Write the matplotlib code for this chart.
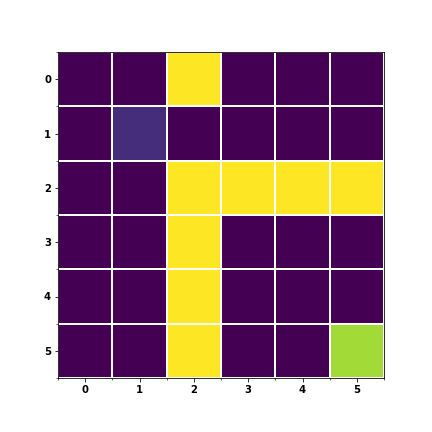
import numpy as np
import matplotlib
matplotlib.use("Agg")
import matplotlib.pyplot as plt

rows = [0, 1, 2, 3, 4, 5]
cols = [0, 1, 2, 3, 4, 5]
grid = np.array([
    [0, 0, 1, 0, 0, 0],
    [0, 0.13, 0, 0, 0, 0],
    [0, 0, 1, 1, 1, 1],
    [0, 0, 1, 0, 0, 0],
    [0, 0, 1, 0, 0, 0],
    [0, 0, 1, 0, 0, 0.86],
])

fig = plt.figure(figsize=(6, 6), dpi=72)
ax = fig.add_axes([58 / 432, 54 / 432, 326 / 432, 326 / 432])
ax.imshow(grid, cmap="viridis", vmin=0, vmax=1)

ax.set_xticks(cols)
ax.set_yticks(rows)
ax.set_xticks(np.arange(-0.5, 6, 1), minor=True)
ax.set_yticks(np.arange(-0.5, 6, 1), minor=True)
ax.grid(which="minor", color="white", linewidth=2)
ax.set_xlim(-0.5, 5.5)
ax.set_ylim(5.5, -0.5)
for lbl in ax.get_xticklabels() + ax.get_yticklabels():
    lbl.set_fontweight("bold")

fig.savefig("out.png", dpi=72)
